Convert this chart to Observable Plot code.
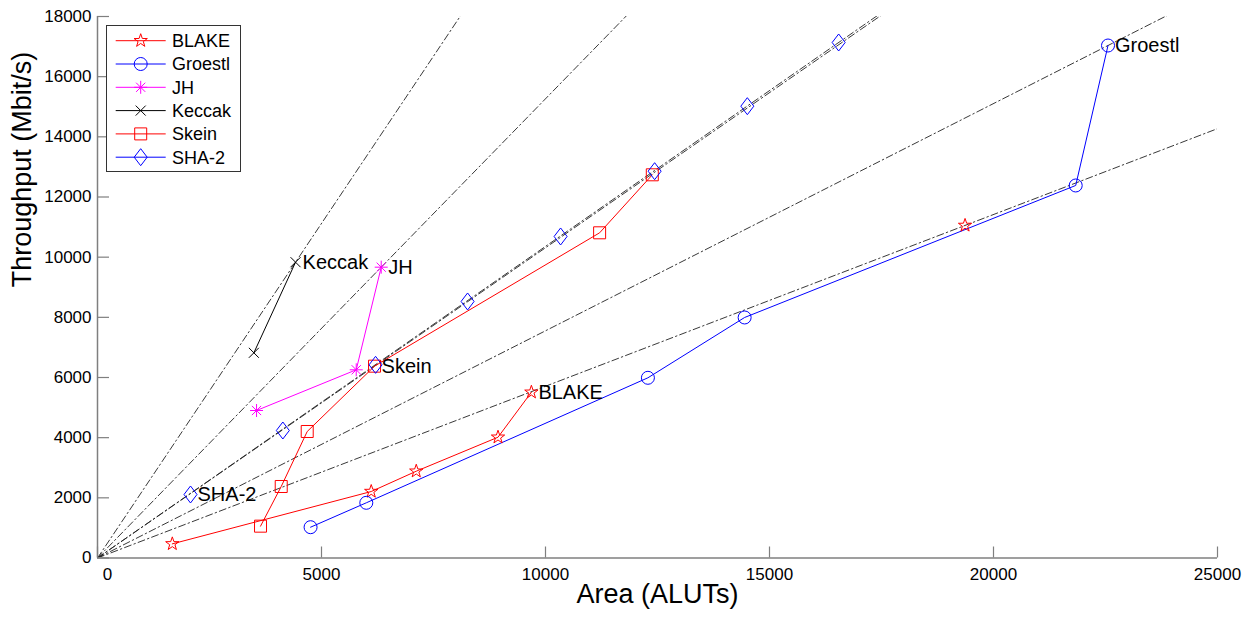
<!DOCTYPE html>
<html><head><meta charset="utf-8">
<script src="https://cdn.jsdelivr.net/npm/d3@7"></script>
<script src="https://cdn.jsdelivr.net/npm/@observablehq/plot@0.6"></script>
<style>body{margin:0;background:#fff;}</style>
</head><body><div id="chart"></div><script>
// ---- data ----
const seriesNames = ["BLAKE", "Groestl", "JH", "Keccak", "Skein", "SHA-2"];
const blakeArea = [1670, 6110, 7115, 8940, 9685, NaN, 19365];
const blakeThroughput = [470, 2210, 2885, 4015, 5510, NaN, 11055];
const groestlArea = [4756, 6000, 12286, 14445, 21835, 22556];
const groestlThroughput = [1024, 1835, 5990, 7995, 12383, 17036];
const jhArea = [3550, 5775, 6333];
const jhThroughput = [4903, 6256, 9667];
const keccakArea = [3490, 4421];
const keccakThroughput = [6821, 9833];
const skeinArea = [3639, 4101, 4681, 6184, 11208, 12384];
const skeinThroughput = [1058, 2377, 4205, 6377, 10810, 12738];
const sha2Area = [2076, 4137, 6207, 8261, 10337, 12436, 14505, 16544];
const sha2Throughput = [2111, 4238, 6421, 8527, 10688, 12858, 15019, 17136];
const labelIndex = [4, 5, 2, 1, 3, 0];
const xTicks = [0, 5000, 10000, 15000, 20000, 25000];
const yTicks = [0, 2000, 4000, 6000, 8000, 10000, 12000, 14000, 16000, 18000];
const xLabel = "Area (ALUTs)";
const yLabel = "Throughput (Mbit/s)";

// ---- styles ----
const colors = ["#ff0000", "#0000ff", "#ff00ff", "#000000", "#ff0000", "#0000ff"];
const showLine = [true, true, true, true, true, false];
const sym = (f) => ({draw(c) { f(c); }});
const symbols = [
  sym(c => { const R = 7, r = 2.75; for (let i = 0; i < 10; i++) { const a = -Math.PI/2 + i*Math.PI/5, q = i % 2 ? r : R; i ? c.lineTo(q*Math.cos(a), q*Math.sin(a)) : c.moveTo(q*Math.cos(a), q*Math.sin(a)); } c.closePath(); }),
  sym(c => { c.moveTo(6.5, 0); c.arc(0, 0, 6.5, 0, 2*Math.PI); }),
  sym(c => { const L = 6.5, d = L*Math.SQRT1_2; c.moveTo(-L,0); c.lineTo(L,0); c.moveTo(0,-L); c.lineTo(0,L); c.moveTo(-d,-d); c.lineTo(d,d); c.moveTo(-d,d); c.lineTo(d,-d); }),
  sym(c => { const L = 5; c.moveTo(-L,-L); c.lineTo(L,L); c.moveTo(-L,L); c.lineTo(L,-L); }),
  sym(c => { const h = 6; c.moveTo(-h,-h); c.lineTo(h,-h); c.lineTo(h,h); c.lineTo(-h,h); c.closePath(); }),
  sym(c => { const w = 6.5, h = 8.5; c.moveTo(0,-h); c.lineTo(w,0); c.lineTo(0,h); c.lineTo(-w,0); c.closePath(); })
];

const areas = [blakeArea, groestlArea, jhArea, keccakArea, skeinArea, sha2Area];
const thr = [blakeThroughput, groestlThroughput, jhThroughput, keccakThroughput, skeinThroughput, sha2Throughput];
const series = seriesNames.map((name, i) => ({
  name, color: colors[i], symbol: symbols[i],
  pts: areas[i].map((a, j) => ({x: a, y: thr[i][j]}))
}));

// reference lines through origin and each series' best throughput/area point
const refLines = series.map(s => {
  const best = d3.greatest(s.pts.filter(p => isFinite(p.x)), p => p.y / p.x);
  const k = best.y / best.x;
  return [{x: 0, y: 0, id: s.name}, {x: 40000, y: 40000 * k, id: s.name}];
}).flat();

const W = 1248, H = 617, mL = 97, mR = 31, mT = 16, mB = 59.5;
const fw = W - mL - mR, fh = H - mT - mB;
const axisColor = "#7f7f7f";

const marks = [
  Plot.line(refLines, {x: "x", y: "y", z: "id", stroke: "#222", strokeWidth: 0.9, strokeDasharray: "7,3,1.5,3", clip: true}),
  ...series.filter((s, i) => showLine[i]).map(s => Plot.line(s.pts, {x: "x", y: "y", stroke: s.color, strokeWidth: 1})),
  ...series.map(s => Plot.dot(s.pts.filter(p => isFinite(p.x)), {x: "x", y: "y", symbol: s.symbol, fill: "none", stroke: s.color, strokeWidth: 1})),
  ...series.map((s, i) => Plot.text([s.pts[labelIndex[i]]], {x: "x", y: "y", text: () => s.name, textAnchor: "start", dx: 7, fontSize: 20, fill: "black"})),
  Plot.ruleY([0], {stroke: axisColor, strokeWidth: 1.5}),
  Plot.ruleX([0], {stroke: axisColor, strokeWidth: 1.5}),
  Plot.tickX(xTicks, {x: d => d, stroke: axisColor, strokeWidth: 1.2, insetTop: fh - 11}),
  Plot.tickY(yTicks, {y: d => d, stroke: axisColor, strokeWidth: 1.2, insetRight: fw - 12}),
  Plot.axisX({ticks: xTicks, tickSize: 0, tickPadding: 10, fontSize: 17, tickFormat: d => d === 0 ? "" : String(d), label: null}),
  Plot.axisX({ticks: [0], tickSize: 0, tickPadding: 10, fontSize: 17, dx: 10, tickFormat: d => String(d), label: null}),
  Plot.axisY({ticks: yTicks, tickSize: 0, tickPadding: 6, fontSize: 17, tickFormat: d => String(d), label: null}),
  Plot.text([yLabel], {text: d => d, frameAnchor: "left", dx: -75, rotate: -90, fontSize: 27, fill: "black"}),
  Plot.text([xLabel], {text: d => d, frameAnchor: "bottom", dy: 45, fontSize: 27, fill: "black"})
];

const plot = Plot.plot({
  width: W, height: H,
  marginLeft: mL, marginRight: mR, marginTop: mT, marginBottom: mB,
  x: {domain: [0, 25000]},
  y: {domain: [0, 18000]},
  style: {fontFamily: "Arial, 'Liberation Sans', sans-serif", background: "white", color: "black", overflow: "visible"},
  marks
});

// legend
const svg = d3.select(plot);
const lg = svg.append("g").attr("text-anchor", "start");
lg.append("rect").attr("x", 106.5).attr("y", 25.5).attr("width", 134).attr("height", 146)
  .attr("fill", "white").attr("stroke", "#333").attr("stroke-width", 1);
series.forEach((s, i) => {
  const y = 40.7 + i * 23.3;
  lg.append("line").attr("x1", 115.7).attr("x2", 165.7).attr("y1", y).attr("y2", y).attr("stroke", s.color).attr("stroke-width", 1);
  lg.append("path").attr("d", d3.symbol(s.symbol)()).attr("transform", `translate(140.7,${y})`)
    .attr("fill", "none").attr("stroke", s.color).attr("stroke-width", 1);
  lg.append("text").attr("x", 172).attr("y", y).attr("dy", "0.35em").attr("font-size", 18)
    .attr("text-anchor", "start").attr("fill", "black").text(s.name);
});

document.getElementById("chart").appendChild(plot);
</script></body></html>
